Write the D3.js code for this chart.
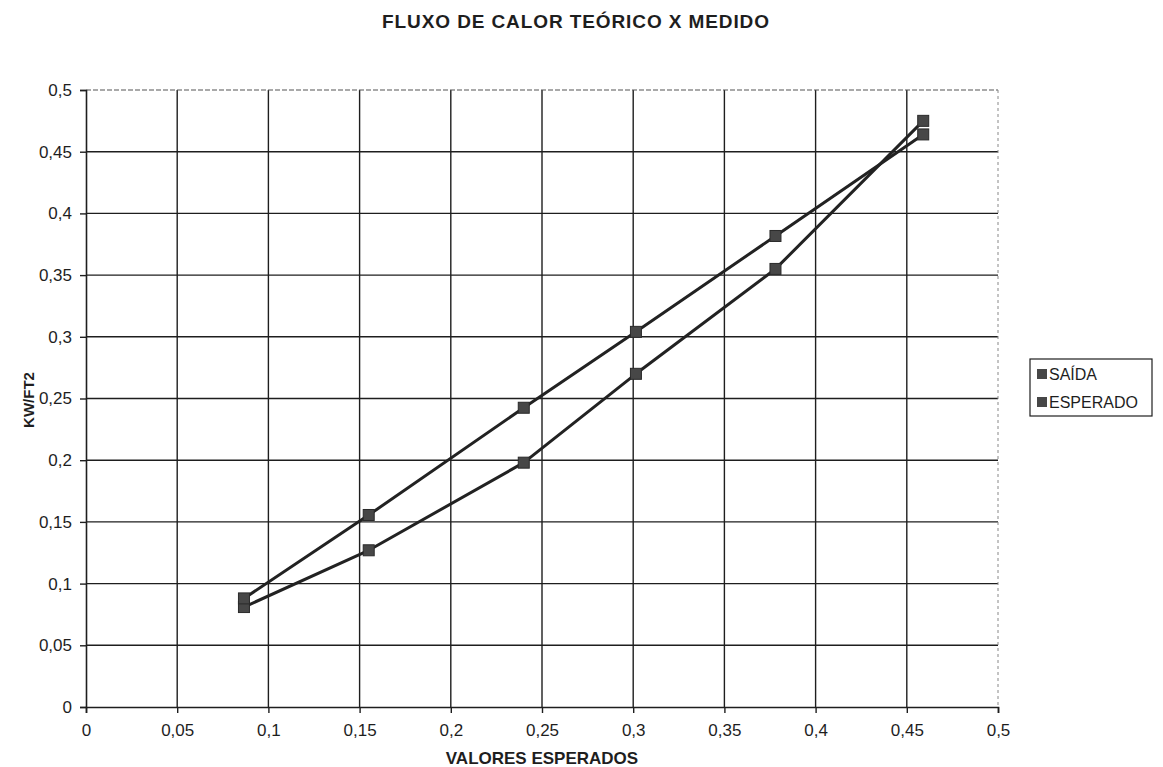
<!DOCTYPE html>
<html>
<head>
<meta charset="utf-8">
<script src="https://cdn.jsdelivr.net/npm/d3@7"></script>
<style>
  html, body { margin: 0; padding: 0; background: #fff; }
  svg { display: block; font-family: "Liberation Sans", Arial, sans-serif; }
</style>
</head>
<body>
<svg id="chart" width="1163" height="767"></svg>
<script>
// Heat flux: theoretical vs measured
const xValues = [0.0866, 0.155, 0.240, 0.3015, 0.378, 0.459];
const saida = [0.081, 0.127, 0.198, 0.270, 0.355, 0.475];
const esperado = [0.088, 0.1556, 0.2425, 0.304, 0.3817, 0.464];
const seriesNames = ["SAÍDA", "ESPERADO"];
const xTicks = [0, 0.05, 0.1, 0.15, 0.2, 0.25, 0.3, 0.35, 0.4, 0.45, 0.5];
const yTicks = [0, 0.05, 0.1, 0.15, 0.2, 0.25, 0.3, 0.35, 0.4, 0.45, 0.5];

const svg = d3.select("#chart");

const x = d3.scaleLinear().domain([0, 0.5]).range([86, 998]);
const y = d3.scaleLinear().domain([0, 0.5]).range([707, 90]);

const fmt = d => String(d).replace(".", ",");
const ink = "#1e1e1e";

// Title
svg.append("text")
  .attr("x", 576).attr("y", 28)
  .attr("text-anchor", "middle")
  .attr("font-size", 19).attr("font-weight", "bold")
  .attr("letter-spacing", 0.9)
  .attr("fill", ink)
  .text("FLUXO DE CALOR TEÓRICO X MEDIDO");

// Grid
const grid = svg.append("g");
grid.selectAll("line.h").data(yTicks.slice(1, -1)).join("line")
  .attr("x1", x(0)).attr("x2", x(0.5))
  .attr("y1", d => y(d)).attr("y2", d => y(d))
  .attr("stroke", ink).attr("stroke-width", 1.4);
grid.selectAll("line.v").data(xTicks.slice(1, -1)).join("line")
  .attr("y1", y(0)).attr("y2", y(0.5))
  .attr("x1", d => x(d)).attr("x2", d => x(d))
  .attr("stroke", ink).attr("stroke-width", 1.4);
// Plot area top and right edges (lighter)
grid.append("line")
  .attr("x1", x(0)).attr("x2", x(0.5)).attr("y1", y(0.5)).attr("y2", y(0.5))
  .attr("stroke", "#555").attr("stroke-width", 1.2).attr("stroke-dasharray", "5,2");
grid.append("line")
  .attr("x1", x(0.5)).attr("x2", x(0.5)).attr("y1", y(0.5)).attr("y2", y(0))
  .attr("stroke", "#888").attr("stroke-width", 1).attr("stroke-dasharray", "3,3");

// Axes
const xAxis = d3.axisBottom(x).tickValues(xTicks).tickFormat(fmt).tickSize(6).tickPadding(11);
const yAxis = d3.axisLeft(y).tickValues(yTicks).tickFormat(fmt).tickSize(6).tickPadding(8);

const gx = svg.append("g").attr("transform", `translate(0,${y(0)})`).call(xAxis);
const gy = svg.append("g").attr("transform", `translate(${x(0)},0)`).call(yAxis);
[gx, gy].forEach(g => {
  g.attr("font-size", 17).attr("font-family", "\"Liberation Sans\", Arial, sans-serif");
  g.select(".domain").attr("stroke", ink).attr("stroke-width", 1.6);
  g.selectAll(".tick line").attr("stroke", ink).attr("stroke-width", 1.4);
  g.selectAll(".tick text").attr("fill", ink);
});

// Axis titles
svg.append("text")
  .attr("x", 542).attr("y", 764)
  .attr("text-anchor", "middle")
  .attr("font-size", 17).attr("font-weight", "bold").attr("fill", ink)
  .text("VALORES ESPERADOS");
svg.append("text")
  .attr("transform", `translate(34,400) rotate(-90)`)
  .attr("text-anchor", "middle")
  .attr("font-size", 15).attr("font-weight", "bold").attr("fill", ink)
  .text("KW/FT2");

// Series lines
const line = d3.line().x(d => x(d[0])).y(d => y(d[1]));
const series = [saida, esperado].map(vals => xValues.map((xv, i) => [xv, vals[i]]));

series.forEach(pts => {
  svg.append("path").datum(pts)
    .attr("d", line)
    .attr("fill", "none")
    .attr("stroke", "#222")
    .attr("stroke-width", 3)
    .attr("stroke-linejoin", "round");
});

// Markers
const ms = 11;
series.forEach(pts => {
  svg.append("g").selectAll("rect").data(pts).join("rect")
    .attr("x", d => x(d[0]) - ms / 2)
    .attr("y", d => y(d[1]) - ms / 2)
    .attr("width", ms).attr("height", ms)
    .attr("fill", "#474747")
    .attr("stroke", "#2a2a2a").attr("stroke-width", 1);
});

// Legend
const lg = svg.append("g");
lg.append("rect")
  .attr("x", 1030).attr("y", 359).attr("width", 122).attr("height", 57)
  .attr("fill", "#fff").attr("stroke", ink).attr("stroke-width", 1.2);
seriesNames.forEach((name, i) => {
  const cy = 374 + i * 28;
  lg.append("rect")
    .attr("x", 1037).attr("y", cy - 5).attr("width", 10).attr("height", 10)
    .attr("fill", "#474747");
  lg.append("text")
    .attr("x", 1049).attr("y", cy + 6)
    .attr("font-size", 16).attr("fill", ink)
    .text(name);
});
</script>
</body>
</html>
